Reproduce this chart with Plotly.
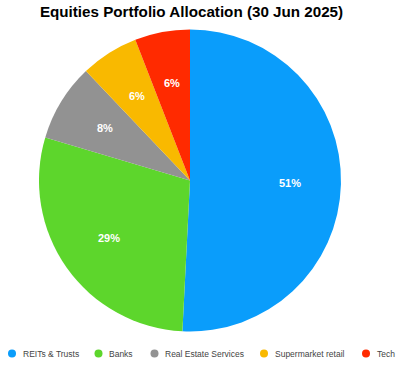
import math
import plotly.graph_objects as go

categories = ["REITs & Trusts", "Banks", "Real Estate Services", "Supermarket retail", "Tech"]
values = [50.8, 28.8, 8.3, 6.2, 5.9]
colors = ["#0A9DFB", "#5DD62C", "#929292", "#F9B900", "#FF2A00"]

W, H = 400, 366
# pie geometry (pixels)
CX, CY, R = 190, 180.5, 151
LABEL_R = 0.66
# custom legend layout (pixels)
legend_x = [12, 98.5, 154.5, 264, 366]
legend_y = 353.5

fig = go.Figure()
fig.add_trace(go.Pie(
    labels=categories,
    values=values,
    sort=False,
    direction="clockwise",
    rotation=0,
    marker=dict(colors=colors, line=dict(width=0)),
    textinfo="none",
    domain=dict(x=[(CX - R) / W, (CX + R) / W], y=[1 - (CY + R) / H, 1 - (CY - R) / H]),
    hoverinfo="label+percent",
    showlegend=False,
))

# percentage labels inside slices, placed along each slice's mid-angle
total = sum(values)
annotations = []
cum = 0.0
for v in values:
    mid = (cum + v / 2) / total * 2 * math.pi
    cum += v
    dx = LABEL_R * R * math.sin(mid)
    dy = LABEL_R * R * math.cos(mid)
    annotations.append(dict(
        x=(CX + dx) / W, y=1 - (CY - dy) / H, xref="paper", yref="paper",
        text=f"<b>{round(v / total * 100)}%</b>", showarrow=False,
        font=dict(family="Liberation Sans", size=11, color="white"),
        xanchor="center", yanchor="middle",
    ))

# custom legend: circle markers + text
fig.add_trace(go.Scatter(
    x=legend_x, y=[H - legend_y] * len(categories),
    mode="markers",
    marker=dict(symbol="circle", size=8, color=colors, line=dict(width=0)),
    hoverinfo="skip", showlegend=False, xaxis="x", yaxis="y",
))
for lx, name in zip(legend_x, categories):
    annotations.append(dict(
        x=lx + 8.5, y=H - legend_y, xref="x", yref="y",
        text=name, showarrow=False, xanchor="left", yanchor="middle",
        font=dict(family="Liberation Sans", size=8.5, color="#444444"),
    ))

fig.update_layout(
    width=W, height=H,
    margin=dict(l=0, r=0, t=0, b=0),
    paper_bgcolor="white",
    plot_bgcolor="rgba(0,0,0,0)",
    title=dict(text="<b>Equities Portfolio Allocation (30 Jun 2025)</b>",
               x=191.5 / W, xanchor="center", y=1 - 12 / H, yanchor="middle",
               font=dict(family="Liberation Sans", size=15.2, color="black")),
    xaxis=dict(range=[0, W], visible=False, fixedrange=True, domain=[0, 1]),
    yaxis=dict(range=[0, H], visible=False, fixedrange=True, domain=[0, 1]),
    annotations=annotations,
    showlegend=False,
)

fig.write_html("out.html", config={"displayModeBar": False},
               post_script="document.body.style.margin='0';document.body.style.overflow='hidden';")
